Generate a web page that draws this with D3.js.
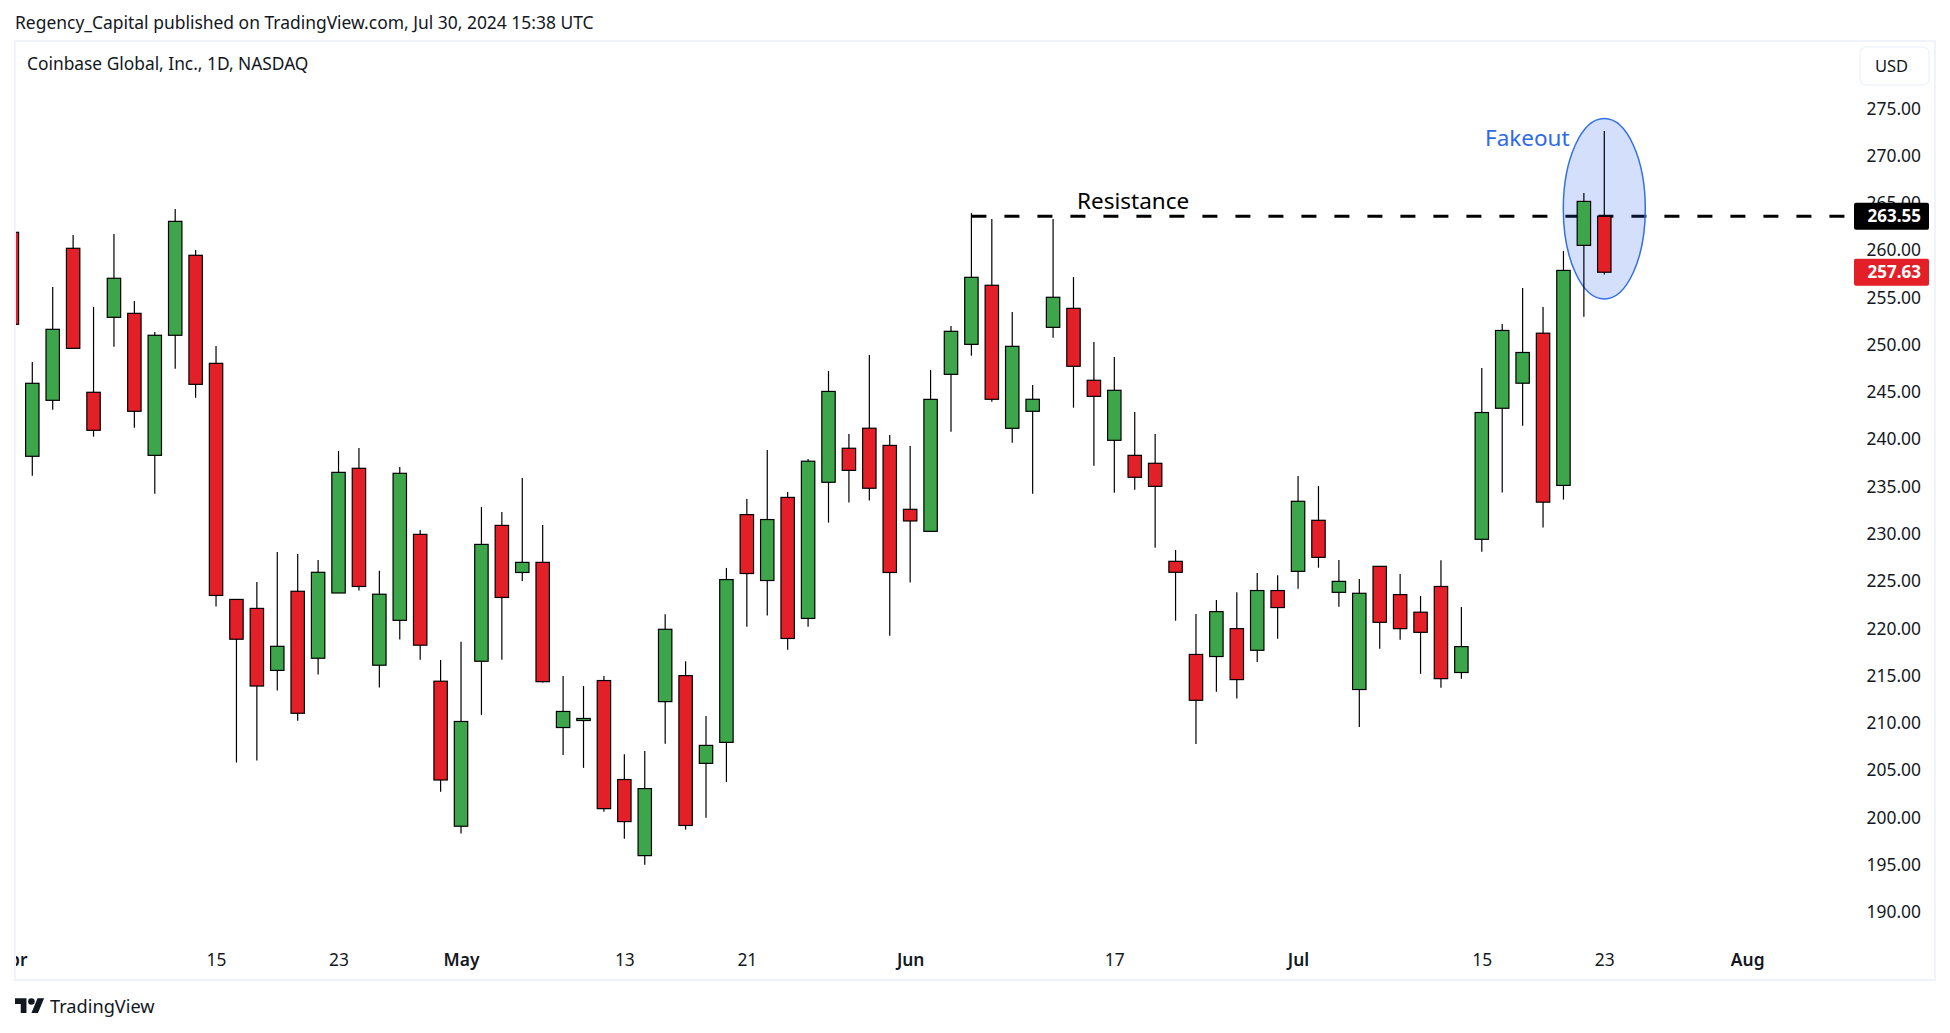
<!DOCTYPE html>
<html>
<head>
<meta charset="utf-8">
<script src="https://d3js.org/d3.v7.min.js"></script>
<style>
	html, body { margin: 0; padding: 0; background: #fff; }
	svg { display: block; }
	text { font-family: 'Noto Sans', sans-serif; fill: #131722; }
	.axis text { font-size: 17.4px; }
	.axis .domain, .axis line { display: none; }
	.xAxis .month { font-weight: 600; }
	.wick { stroke: #000; stroke-width: 1.2; }
	.body { stroke: #000; stroke-width: 1.2; }
</style>
</head>
<body>
<svg id="chart" width="1950" height="1033"></svg>
<script>
	// trading days, Apr 1 to Aug 1 2024 (the last 7 are empty space to the right)
	var dates = [
		"04-01","04-02","04-03","04-04","04-05","04-08","04-09","04-10","04-11","04-12","04-15",
		"04-16","04-17","04-18","04-19","04-22","04-23","04-24","04-25","04-26","04-29","04-30",
		"05-01","05-02","05-03","05-06","05-07","05-08","05-09","05-10","05-13","05-14","05-15",
		"05-16","05-17","05-20","05-21","05-22","05-23","05-24","05-28","05-29","05-30","05-31",
		"06-03","06-04","06-05","06-06","06-07","06-10","06-11","06-12","06-13","06-14","06-17",
		"06-18","06-20","06-21","06-24","06-25","06-26","06-27","06-28",
		"07-01","07-02","07-03","07-05","07-08","07-09","07-10","07-11","07-12","07-15","07-16",
		"07-17","07-18","07-19","07-22","07-23","07-24","07-25","07-26","07-29","07-30","07-31","08-01"
	];

	var open = [
		261.85,238.16,244.08,260.16,244.93,252.86,253.28,238.26,250.96,259.42,247.99,
		223.02,222.07,215.51,223.88,216.80,223.70,236.89,216.06,220.81,229.90,214.37,
		199.03,216.48,230.85,225.87,226.94,209.47,210.21,214.44,203.97,195.92,212.21,
		214.96,205.68,207.90,231.99,225.02,233.81,221.01,235.41,239.01,241.13,239.31,
		232.55,230.22,246.83,250.00,256.25,241.12,242.92,251.80,253.81,246.20,239.85,
		238.26,237.42,227.05,217.20,216.98,219.93,217.64,223.96,
		225.99,231.39,223.77,213.49,226.52,223.53,221.67,224.39,215.29,229.38,243.24,
		245.89,251.18,235.08,260.47,263.55
	];
	var high = [
		261.85,248.13,256.07,261.57,253.95,261.67,254.58,251.31,264.32,259.98,249.82,
		223.02,224.86,228.04,227.82,227.19,238.72,239.03,226.05,237.02,230.36,216.61,
		218.53,232.79,232.27,235.86,230.89,214.92,213.86,214.92,206.64,206.98,221.45,
		216.48,210.69,226.35,233.64,238.82,234.38,237.87,247.18,240.53,248.88,240.42,
		239.25,247.29,251.94,263.89,263.26,253.42,245.70,263.26,257.12,250.25,248.66,
		242.84,240.52,228.25,221.48,222.96,223.78,225.81,225.58,
		236.07,235.02,227.19,225.18,226.52,225.70,223.39,227.17,222.22,247.51,252.16,
		255.97,253.94,259.87,266.02,272.57
	];
	var low = [
		252.12,236.10,243.09,249.58,240.23,249.75,241.18,234.20,247.42,244.36,222.27,
		205.76,205.99,213.38,210.20,215.08,223.70,223.96,213.70,218.77,216.64,202.69,
		198.25,210.79,216.63,224.98,214.22,206.57,205.20,200.55,197.70,194.96,207.76,
		198.67,199.93,203.71,220.12,221.31,217.71,220.12,231.14,233.26,233.48,219.19,
		224.80,230.22,240.76,248.80,243.93,239.60,234.20,250.70,243.30,237.16,234.31,
		234.62,228.49,220.77,207.73,213.25,212.53,216.41,218.85,
		224.15,226.37,222.25,209.53,217.80,218.75,215.15,213.67,214.62,228.05,234.33,
		241.39,230.63,233.58,252.91,257.38
	];
	var close = [
		252.12,245.88,251.59,249.58,240.91,256.99,242.92,250.96,263.01,245.77,223.44,
		218.81,213.86,218.06,210.98,225.89,236.46,224.39,223.57,236.36,218.18,203.92,
		210.11,228.84,223.23,226.94,214.32,211.17,210.43,200.89,199.52,203.01,219.86,
		199.11,207.58,225.12,225.76,231.47,218.89,237.64,245.02,236.67,234.78,225.87,
		231.32,244.18,251.38,257.09,244.19,249.79,244.19,254.98,247.68,244.50,245.14,
		235.94,234.98,225.89,212.35,221.73,214.54,223.96,222.16,
		233.40,227.47,224.93,223.67,220.60,219.93,219.54,214.64,218.03,242.79,251.47,
		249.14,233.31,257.82,265.12,257.63
	];

	var priceTicks = [190,195,200,205,210,215,220,225,230,235,240,245,250,255,260,265,270,275];
	var dateTicks = ["04-01","04-15","04-23","05-01","05-13","05-21","06-03","06-17","07-01","07-15","07-23","08-01"];
	var dateLabels = ["Apr","15","23","May","13","21","Jun","17","Jul","15","23","Aug"];

	var resistance = 263.55;
	var lastClose = 257.63;
	var resistanceStart = "06-06";
	var ellipseDate = "07-23";
	var ellipsePrices = [273.88, 254.80];

	var svg = d3.select("#chart");

	var xChart = d3.scalePoint().domain(dates).range([11.88, 1747.2]);
	var yChart = d3.scaleLinear().domain([190, 275]).range([911.6, 108]);

	var panel = {left: 15, top: 41, right: 1935, bottom: 980};

	svg.append("defs").append("clipPath").attr("id", "panelClip")
		.append("rect")
		.attr("x", panel.left + 1).attr("y", panel.top)
		.attr("width", panel.right - panel.left - 1).attr("height", panel.bottom - panel.top);

	// header line
	svg.append("text").attr("x", 15).attr("y", 28.5)
		.style("font-size", "17.45px")
		.text("Regency_Capital published on TradingView.com, Jul 30, 2024 15:38 UTC");

	// panel frame
	svg.append("rect")
		.attr("x", panel.left).attr("y", panel.top)
		.attr("width", panel.right - panel.left).attr("height", panel.bottom - panel.top)
		.attr("fill", "none").attr("stroke", "#f0f3fa").attr("stroke-width", 2);

	svg.append("text").attr("x", 27).attr("y", 70)
		.style("font-size", "17.35px")
		.text("Coinbase Global, Inc., 1D, NASDAQ");

	// price axis
	var yAxis = d3.axisRight(yChart).tickValues(priceTicks).tickFormat(d3.format(".2f")).tickSize(0);
	svg.append("g").attr("class", "axis yAxis")
		.attr("transform", "translate(1921,0)")
		.call(yAxis)
		.selectAll("text")
		.attr("x", 0)
		.attr("dy", "0.35em")
		.style("text-anchor", "end");

	// date axis, clipped so "Apr" is cut by the panel edge
	var xAxis = d3.axisBottom(xChart).tickValues(dateTicks).tickSize(0)
		.tickFormat(function(d){ return dateLabels[dateTicks.indexOf(d)]; });
	svg.append("g").attr("clip-path", "url(#panelClip)")
		.append("g").attr("class", "axis xAxis")
		.attr("transform", "translate(0,953.5)")
		.call(xAxis)
		.selectAll("text")
		.attr("y", 0)
		.attr("dy", "0.71em")
		.classed("month", function(d){ return /[A-Za-z]/.test(dateLabels[dateTicks.indexOf(d)]); });

	var plot = svg.append("g").attr("clip-path", "url(#panelClip)");

	// resistance line sits under the ellipse
	plot.append("line")
		.attr("x1", xChart(resistanceStart)).attr("x2", 1845)
		.attr("y1", yChart(resistance)).attr("y2", yChart(resistance))
		.attr("stroke", "#000").attr("stroke-width", 3).attr("stroke-dasharray", "15,18");

	plot.append("ellipse")
		.attr("cx", xChart(ellipseDate))
		.attr("cy", (yChart(ellipsePrices[0]) + yChart(ellipsePrices[1])) / 2)
		.attr("rx", 41)
		.attr("ry", (yChart(ellipsePrices[1]) - yChart(ellipsePrices[0])) / 2)
		.attr("fill", "rgba(41,98,235,0.2)")
		.attr("stroke", "#3570e6").attr("stroke-width", 1.5);

	// candles
	var candleData = open.map(function(d, i){
		return {date: dates[i], open: d, high: high[i], low: low[i], close: close[i]};
	});
	var bodyWidth = 13.4;

	var candles = plot.selectAll(".candle").data(candleData).enter().append("g").attr("class", "candle");

	candles.append("line").attr("class", "wick")
		.attr("x1", function(d){ return xChart(d.date); })
		.attr("x2", function(d){ return xChart(d.date); })
		.attr("y1", function(d){ return yChart(d.high); })
		.attr("y2", function(d){ return yChart(d.low); });

	candles.append("rect").attr("class", "body")
		.attr("x", function(d){ return xChart(d.date) - bodyWidth / 2; })
		.attr("y", function(d){ return yChart(Math.max(d.open, d.close)); })
		.attr("width", bodyWidth)
		.attr("height", function(d){ return Math.abs(yChart(d.open) - yChart(d.close)); })
		.attr("fill", function(d){ return d.close >= d.open ? "#3ea64a" : "#e32028"; });

	// annotations
	svg.append("text").attr("x", 1077).attr("y", 208.5)
		.style("font-size", "22.5px").style("fill", "#000").text("Resistance");
	svg.append("text").attr("x", 1485).attr("y", 146)
		.style("font-size", "22.5px").style("fill", "#2f6ae6").text("Fakeout");

	// currency button
	svg.append("rect")
		.attr("x", 1860).attr("y", 47).attr("width", 69).attr("height", 38).attr("rx", 6)
		.attr("fill", "#fff").attr("stroke", "#f0f3fa").attr("stroke-width", 1.5);
	svg.append("text").attr("x", 1875).attr("y", 71.5)
		.style("font-size", "16.5px").text("USD");

	// price tags
	var tags = [
		{price: resistance, color: "#000"},
		{price: lastClose, color: "#e32028"}
	];
	var tag = svg.selectAll(".tag").data(tags).enter().append("g").attr("class", "tag");
	tag.append("rect")
		.attr("x", 1854).attr("width", 75).attr("height", 27).attr("rx", 2)
		.attr("y", function(d){ return yChart(d.price) - 13.5; })
		.attr("fill", function(d){ return d.color; });
	tag.append("text")
		.attr("x", 1921)
		.attr("y", function(d){ return yChart(d.price); })
		.attr("dy", "0.36em")
		.style("text-anchor", "end")
		.style("font-size", "17px")
		.style("font-weight", 700)
		.style("fill", "#fff")
		.text(function(d){ return d3.format(".2f")(d.price); });

	// footer logo
	var logo = svg.append("g").attr("transform", "translate(15,995) scale(0.82)").attr("fill", "#131722");
	logo.append("path").attr("d", "M14 22H7V11H0V4h14v18zM28 22h-8l7.5-18h8L28 22z");
	logo.append("circle").attr("cx", 20).attr("cy", 8).attr("r", 4);
	svg.append("text").attr("x", 50).attr("y", 1013)
		.style("font-size", "18.2px").text("TradingView");
</script>
</body>
</html>
